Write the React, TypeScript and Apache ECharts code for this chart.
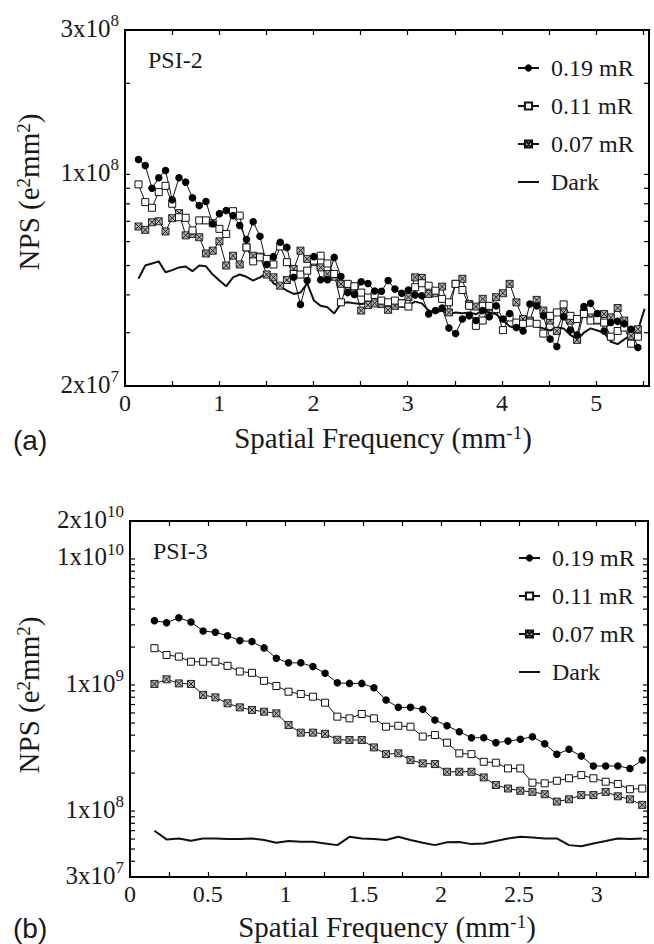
import React, { useEffect, useRef } from 'react';
import * as echarts from 'echarts';

// ---------- Panel (a) PSI-2 ----------
const freqA = [
  0.143, 0.215, 0.286, 0.358, 0.430, 0.501, 0.573, 0.644, 0.716, 0.788,
  0.859, 0.931, 1.002, 1.074, 1.146, 1.217, 1.289, 1.360, 1.432, 1.504,
  1.575, 1.647, 1.718, 1.790, 1.862, 1.933, 2.005, 2.076, 2.148, 2.220,
  2.291, 2.363, 2.434, 2.506, 2.578, 2.649, 2.721, 2.792, 2.864, 2.936,
  3.007, 3.079, 3.150, 3.222, 3.294, 3.365, 3.437, 3.508, 3.580, 3.652,
  3.723, 3.795, 3.866, 3.938, 4.010, 4.081, 4.153, 4.224, 4.296, 4.368,
  4.439, 4.511, 4.582, 4.654, 4.726, 4.797, 4.869, 4.940, 5.012, 5.084,
  5.155, 5.227, 5.298, 5.370, 5.442, 5.513,
];
const psi2_019 = [
  1.12e8, 1.07e8, 9.0e7, 9.75e7, 1.03e8, 8.24e7, 9.75e7, 9.43e7, 8.37e7, 7.89e7,
  8.14e7, 6.87e7, 7.42e7, 7.6e7, 7.31e7, 6.78e7, 6.09e7, 6.98e7, 6.25e7, 5.04e7,
  5.35e7, 5.97e7, 5.74e7, 4.57e7, 3.72e7, 4.46e7, 5.35e7, 4.49e7, 4.49e7, 5.32e7,
  4.6e7, 4.07e7, 4.01e7, 4.42e7, 4.36e7, 4.12e7, 4.11e7, 4.46e7, 4.18e7, 4.05e7,
  4.15e7, 4.0e7, 3.97e7, 3.46e7, 3.55e7, 3.62e7, 3.11e7, 2.98e7, 3.33e7, 3.41e7,
  3.29e7, 3.55e7, 3.39e7, 3.68e7, 3.33e7, 3.47e7, 3.12e7, 3.04e7, 3.73e7, 3.68e7,
  3.41e7, 2.86e7, 2.7e7, 3.39e7, 3.06e7, 2.95e7, 3.66e7, 3.75e7, 3.47e7, 3.04e7,
  3.24e7, 3.27e7, 3.21e7, 3.08e7, 2.68e7,
];
const psi2_011 = [
  9.27e7, 8.1e7, 7.76e7, 8.74e7, 9.17e7, 8.0e7, 7.22e7, 7.19e7, 6.53e7, 7.05e7,
  7.05e7, 6.9e7, 6.61e7, 6.36e7, 7.56e7, 7.31e7, 5.74e7, 5.16e7, 5.32e7, 5.26e7,
  5.04e7, 5.78e7, 5.13e7, 4.69e7, 4.67e7, 4.81e7, 5.19e7, 5.39e7, 5.08e7, 4.69e7,
  3.78e7, 4.35e7, 4.27e7, 4.07e7, 3.92e7, 4.0e7, 3.83e7, 3.78e7, 3.83e7, 3.75e7,
  3.66e7, 4.24e7, 4.37e7, 4.29e7, 4.13e7, 3.88e7, 3.78e7, 4.35e7, 4.15e7, 3.68e7,
  3.16e7, 3.29e7, 3.68e7, 3.59e7, 3.06e7, 3.37e7, 3.24e7, 3.21e7, 3.24e7, 3.21e7,
  2.98e7, 3.41e7, 3.5e7, 3.72e7, 3.41e7, 3.33e7, 3.46e7, 3.29e7, 3.31e7, 3.24e7,
  2.91e7, 3.04e7, 3.12e7, 2.76e7, 2.91e7,
];
const psi2_007 = [
  6.73e7, 6.56e7, 6.95e7, 7.0e7, 6.48e7, 7.17e7, 7.45e7, 6.29e7, 6.36e7, 6.2e7,
  5.48e7, 5.6e7, 6.01e7, 5.0e7, 5.39e7, 5.04e7, 5.74e7, 5.39e7, 5.35e7, 4.67e7,
  4.57e7, 4.29e7, 4.48e7, 4.87e7, 5.6e7, 5.26e7, 5.13e7, 4.93e7, 4.69e7, 4.59e7,
  4.35e7, 4.13e7, 4.26e7, 3.55e7, 3.7e7, 3.75e7, 3.73e7, 3.57e7, 3.68e7, 3.75e7,
  3.93e7, 4.57e7, 4.55e7, 4.03e7, 4.05e7, 4.26e7, 3.5e7, 4.35e7, 4.52e7, 3.73e7,
  3.66e7, 3.88e7, 3.64e7, 3.93e7, 4.05e7, 4.35e7, 3.78e7, 3.33e7, 3.29e7, 3.85e7,
  3.55e7, 3.29e7, 3.04e7, 3.5e7, 3.29e7, 2.84e7, 3.5e7, 3.37e7, 3.29e7, 3.46e7,
  3.37e7, 3.62e7, 3.29e7, 2.93e7, 3.08e7,
];
const psi2_dark = [
  4.52e7, 5.0e7, 5.08e7, 5.16e7, 4.75e7, 4.83e7, 4.93e7, 4.96e7, 4.79e7, 5.0e7,
  4.97e7, 4.67e7, 4.46e7, 4.27e7, 4.57e7, 4.67e7, 4.59e7, 4.46e7, 4.57e7, 4.71e7,
  4.37e7, 4.26e7, 4.13e7, 4.03e7, 4.07e7, 4.37e7, 3.83e7, 3.68e7, 3.64e7, 3.47e7,
  3.75e7, 3.78e7, 3.75e7, 3.73e7, 3.75e7, 3.75e7, 3.75e7, 3.7e7, 3.72e7, 3.65e7,
  3.7e7, 3.8e7, 3.75e7, 3.55e7, 3.5e7, 3.55e7, 3.45e7, 3.5e7, 3.48e7, 3.5e7,
  3.45e7, 3.55e7, 3.5e7, 3.45e7, 3.3e7, 3.15e7, 3.1e7, 3.15e7, 3.2e7, 3.15e7,
  3.1e7, 3.05e7, 3.12e7, 3.1e7, 2.95e7, 2.85e7, 3.0e7, 3.1e7, 3.05e7, 3.0e7,
  2.8e7, 2.75e7, 2.85e7, 2.95e7, 3.05e7, 3.6e7,
];

// ---------- Panel (b) PSI-3 ----------
const freqB = [
  0.157, 0.235, 0.314, 0.392, 0.470, 0.549, 0.627, 0.706, 0.784, 0.862,
  0.941, 1.019, 1.098, 1.176, 1.254, 1.333, 1.411, 1.490, 1.568, 1.646,
  1.725, 1.803, 1.882, 1.960, 2.038, 2.117, 2.195, 2.274, 2.352, 2.430,
  2.509, 2.587, 2.666, 2.744, 2.822, 2.901, 2.979, 3.058, 3.136, 3.214,
  3.293,
];
const psi3_019 = [
  3.24e9, 3.12e9, 3.42e9, 3.16e9, 2.68e9, 2.62e9, 2.46e9, 2.25e9, 2.21e9, 1.97e9,
  1.63e9, 1.5e9, 1.5e9, 1.4e9, 1.24e9, 1.04e9, 1.03e9, 1.03e9, 9.52e8, 7.6e8,
  6.65e8, 6.65e8, 6.41e8, 5.27e8, 4.75e8, 4.26e8, 3.82e8, 3.82e8, 3.49e8, 3.59e8,
  3.71e8, 3.89e8, 3.42e8, 2.82e8, 3.09e8, 2.73e8, 2.28e8, 2.28e8, 2.28e8, 2.18e8,
  2.54e8,
];
const psi3_011 = [
  1.96e9, 1.73e9, 1.68e9, 1.53e9, 1.53e9, 1.53e9, 1.42e9, 1.28e9, 1.25e9, 1.08e9,
  9.82e8, 8.85e8, 8.49e8, 8.08e8, 7.24e8, 5.61e8, 5.44e8, 5.89e8, 5.44e8, 4.67e8,
  4.75e8, 4.67e8, 3.9e8, 4.01e8, 3.49e8, 2.87e8, 2.83e8, 2.46e8, 2.42e8, 2.18e8,
  2.18e8, 1.68e8, 1.66e8, 1.74e8, 1.82e8, 1.93e8, 1.82e8, 1.71e8, 1.64e8, 1.49e8,
  1.51e8,
];
const psi3_007 = [
  1.02e9, 1.11e9, 1.03e9, 1.02e9, 8.34e8, 7.98e8, 7.16e8, 6.65e8, 6.34e8, 6.14e8,
  5.96e8, 4.82e8, 4.19e8, 4.19e8, 4.1e8, 3.68e8, 3.66e8, 3.66e8, 3.2e8, 2.83e8,
  2.87e8, 2.54e8, 2.39e8, 2.36e8, 2.05e8, 2.05e8, 2.05e8, 1.85e8, 1.61e8, 1.51e8,
  1.45e8, 1.42e8, 1.36e8, 1.19e8, 1.24e8, 1.34e8, 1.34e8, 1.42e8, 1.31e8, 1.24e8,
  1.12e8,
];
const psi3_dark = [
  6.98e7, 5.96e7, 6.07e7, 5.81e7, 6.07e7, 6.07e7, 6.0e7, 6.0e7, 6.07e7, 5.89e7,
  5.61e7, 5.78e7, 5.71e7, 5.71e7, 5.54e7, 5.37e7, 6.25e7, 6.07e7, 6.0e7, 5.89e7,
  6.25e7, 5.89e7, 5.61e7, 5.37e7, 5.65e7, 5.68e7, 5.47e7, 5.54e7, 5.78e7, 6.07e7,
  6.25e7, 6.18e7, 6.07e7, 6.07e7, 5.37e7, 5.27e7, 5.54e7, 5.78e7, 6.07e7, 6.0e7,
  6.07e7,
];

const seriesNames = ['0.19 mR', '0.11 mR', '0.07 mR', 'Dark'];
const yTicksA = [3e7, 4e7, 5e7, 6e7, 7e7, 8e7, 9e7, 1e8, 2e8];
const yTicksB = [
  4e7, 5e7, 6e7, 7e7, 8e7, 9e7, 1e8,
  2e8, 3e8, 4e8, 5e8, 6e8, 7e8, 8e8, 9e8, 1e9,
  2e9, 3e9, 4e9, 5e9, 6e9, 7e9, 8e9, 9e9, 1e10,
];

const SERIF = 'Liberation Serif';
const SANS = 'Liberation Sans';
const INK = '#1a1a1a';
const CROSS_SQUARE = 'path://M0,0L10,0L10,10L0,10Z M0,0L10,10 M10,0L0,10';

function pairs(xs: number[], ys: number[]) {
  return ys.map((y, i) => [xs[i], y]);
}

function sciLabel(v: number) {
  const e = Math.floor(Math.log10(v) + 1e-9);
  const m = Math.round(v / Math.pow(10, e));
  return `{n|${m}x10}{s|${e}}`;
}

const yLabelRich = {
  n: { fontSize: 25, fontFamily: SERIF, color: INK, lineHeight: 32 },
  s: { fontSize: 17, fontFamily: SERIF, color: INK, lineHeight: 17, verticalAlign: 'top' },
};
const titleRich = {
  n: { fontSize: 29, fontFamily: SERIF, fill: INK, lineHeight: 30 },
  s: { fontSize: 19, fontFamily: SERIF, fill: INK, lineHeight: 14, verticalAlign: 'top' },
};

function tickSeries(name: string, xIdx: number, yIdx: number, values: number[], len: number) {
  return {
    type: 'custom',
    name,
    xAxisIndex: xIdx,
    yAxisIndex: yIdx,
    silent: true,
    z: 4,
    data: values.map((v) => [0, v]),
    renderItem: (params: any, api: any) => {
      const cs = params.coordSys;
      const y = api.coord([0, api.value(1)])[1];
      const st = { stroke: '#000', lineWidth: 1.2 };
      return {
        type: 'group',
        children: [
          { type: 'line', shape: { x1: cs.x, y1: y, x2: cs.x + len, y2: y }, style: st },
          { type: 'line', shape: { x1: cs.x + cs.width - len, y1: y, x2: cs.x + cs.width, y2: y }, style: st },
        ],
      };
    },
  };
}

function dataSeries(xIdx: number, yIdx: number, xs: number[], s019: number[], s011: number[], s007: number[], dark: number[], circleSize: number) {
  return [
    {
      name: 'Dark', type: 'line', xAxisIndex: xIdx, yAxisIndex: yIdx,
      data: pairs(xs, dark), symbol: 'circle', symbolSize: 0, showSymbol: false,
      itemStyle: { color: 'rgba(0,0,0,0)', borderWidth: 0 },
      lineStyle: { color: '#111', width: 2 }, z: 2,
    },
    {
      name: '0.07 mR', type: 'line', xAxisIndex: xIdx, yAxisIndex: yIdx,
      data: pairs(xs, s007), symbol: CROSS_SQUARE, symbolSize: 7,
      itemStyle: { color: '#b0b0b0', borderColor: '#111', borderWidth: 0.9 },
      lineStyle: { color: '#111', width: 1 }, z: 3,
    },
    {
      name: '0.11 mR', type: 'line', xAxisIndex: xIdx, yAxisIndex: yIdx,
      data: pairs(xs, s011), symbol: 'rect', symbolSize: 7,
      itemStyle: { color: '#fff', borderColor: '#111', borderWidth: 1 },
      lineStyle: { color: '#111', width: 1 }, z: 3,
    },
    {
      name: '0.19 mR', type: 'line', xAxisIndex: xIdx, yAxisIndex: yIdx,
      data: pairs(xs, s019), symbol: 'circle', symbolSize: circleSize,
      itemStyle: { color: '#000' },
      lineStyle: { color: '#111', width: 1 }, z: 3,
    },
  ];
}

function xAxes(grid: number, max: number, interval: number) {
  const fmt = (v: number) => {
    const ok = Math.abs(v * 2 - Math.round(v * 2)) < 1e-6 && (interval === 0.25 || Math.abs(v - Math.round(v)) < 1e-6);
    return ok ? String(Math.round(v * 10) / 10) : '';
  };
  const tick = { show: true, inside: true, length: 5, lineStyle: { color: '#000', width: 1.2 } };
  return [
    {
      gridIndex: grid, type: 'value', min: 0, max, interval, position: 'bottom',
      axisLine: { show: false }, axisTick: tick, splitLine: { show: false },
      axisLabel: { formatter: fmt, fontSize: 24, fontFamily: SERIF, color: INK, margin: 5, lineHeight: 24, showMinLabel: true },
    },
    {
      gridIndex: grid, type: 'value', min: 0, max, interval, position: 'top',
      axisLine: { show: false }, axisTick: tick, splitLine: { show: false }, axisLabel: { show: false },
    },
  ];
}

function yAxis(grid: number, min: number, max: number) {
  return {
    gridIndex: grid, type: 'log', logBase: 10, min, max,
    axisLine: { show: false }, axisTick: { show: false }, splitLine: { show: false },
    minorTick: { show: false },
    axisLabel: {
      formatter: sciLabel, rich: yLabelRich, margin: 6, showMinLabel: true, showMaxLabel: true,
      padding: [0, 0, 4, 0],
    },
  };
}

function titleText(x: number, y: number, text: string, rotate = false) {
  return {
    type: 'text', x, y, rotation: rotate ? Math.PI / 2 : 0, silent: true,
    style: { text, rich: titleRich, align: 'center', verticalAlign: 'middle', fill: INK },
  };
}

function plainText(x: number, y: number, text: string, size: number, family: string) {
  return {
    type: 'text', x, y, silent: true,
    style: { text, fontSize: size, fontFamily: family, fill: INK, align: 'left', verticalAlign: 'middle' },
  };
}

export default function App() {
  const ref = useRef<HTMLDivElement>(null);

  useEffect(() => {
    if (!ref.current) return;
    const chart = echarts.init(ref.current, undefined, { renderer: 'svg' });
    const legendBase = {
      data: seriesNames, orient: 'vertical', itemWidth: 21, itemHeight: 9, itemGap: 14,
      selectedMode: false,
      textStyle: { fontFamily: SERIF, fontSize: 24, color: INK, lineHeight: 24, padding: [0, 0, 0, 7] },
    };
    const option: any = {
      animation: false,
      backgroundColor: '#fff',
      textStyle: { fontFamily: SERIF },
      grid: [
        { left: 125, top: 30, width: 524, height: 356, show: true, borderColor: '#000', borderWidth: 2, containLabel: false },
        { left: 130, top: 521, width: 518, height: 356, show: true, borderColor: '#000', borderWidth: 2, containLabel: false },
      ],
      xAxis: [...xAxes(0, 5.56, 0.5), ...xAxes(1, 3.33, 0.25)],
      yAxis: [yAxis(0, 2e7, 3e8), yAxis(1, 3e7, 2e10)],
      legend: [
        { ...legendBase, left: 512, top: 51 },
        { ...legendBase, left: 513, top: 541 },
      ],
      series: [
        tickSeries('ticksA', 0, 0, yTicksA, 5),
        tickSeries('ticksB', 2, 1, yTicksB, 5),
        ...dataSeries(0, 0, freqA, psi2_019, psi2_011, psi2_007, psi2_dark, 7.5),
        ...dataSeries(2, 1, freqB, psi3_019, psi3_011, psi3_007, psi3_dark, 7.5),
      ],
      graphic: [
        plainText(148, 60, 'PSI-2', 24, SERIF),
        plainText(153, 551, 'PSI-3', 24, SERIF),
        plainText(13, 440, '(a)', 28, SANS),
        plainText(13, 928, '(b)', 28, SANS),
        titleText(383, 438, '{n|Spatial Frequency (mm}{s|-1}{n|)}'),
        titleText(387, 927, '{n|Spatial Frequency (mm}{s|-1}{n|)}'),
        titleText(29, 192, '{n|NPS (e}{s|2}{n|mm}{s|2}{n|)}', true),
        titleText(29, 695, '{n|NPS (e}{s|2}{n|mm}{s|2}{n|)}', true),
      ],
    };
    chart.setOption(option);
    return () => chart.dispose();
  }, []);

  return (
    <div
      ref={ref}
      style={{ position: 'absolute', left: 0, top: 0, width: 654, height: 944, background: '#fff' }}
    />
  );
}
